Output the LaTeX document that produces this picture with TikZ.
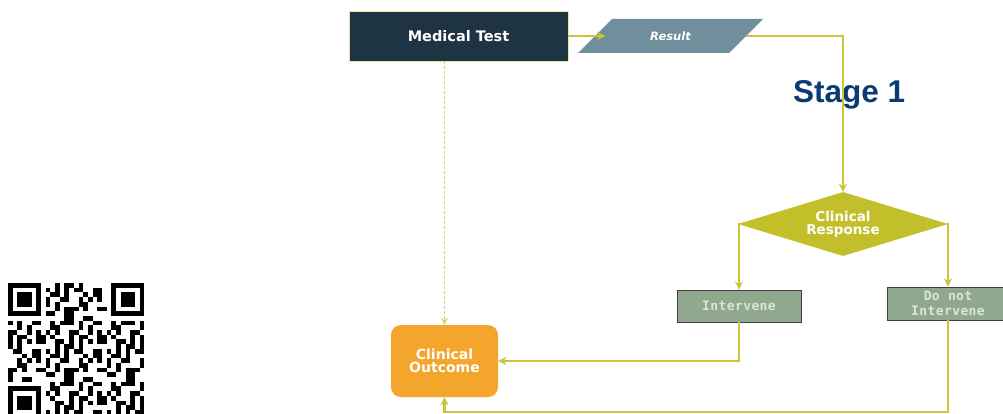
\documentclass[tikz,border=0pt]{standalone}
\usepackage{fontspec}
\setmainfont{DejaVu Sans}
\newfontfamily\stagefont{Liberation Sans}
\newfontfamily\monobold{DejaVu Sans Mono}[LetterSpace=3]
\usetikzlibrary{shapes.geometric,arrows.meta}

\definecolor{navy}{HTML}{1F3442}
\definecolor{slate}{HTML}{6F8F9C}
\definecolor{olive}{HTML}{C9C63A}
\definecolor{mustard}{HTML}{C3BF2A}
\definecolor{sage}{HTML}{8FA88E}
\definecolor{sagetext}{HTML}{DCE6D6}
\definecolor{amber}{HTML}{F4A52B}
\definecolor{stageblue}{HTML}{0B3B73}

\tikzset{
  flow/.style={draw=olive, line width=2.2pt, -{Stealth[length=8pt,width=8pt]}},
  dashflow/.style={draw=olive!75, line width=1.1pt, dash pattern=on 3pt off 2pt, -{Stealth[length=7pt,width=7pt]}},
  testbox/.style={rectangle, fill=navy, draw=olive!45, line width=0.8pt, text=white,
    font=\bfseries\fontsize{14.5}{16}\selectfont, inner sep=0pt},
  actbox/.style={rectangle, fill=sage, draw=black!75, line width=0.9pt, text=sagetext,
    font=\monobold\bfseries\fontsize{13}{15}\selectfont, align=center, inner sep=0pt},
  decision/.style={diamond, fill=mustard, text=white, inner sep=0pt, align=center, aspect=3.3,
    font=\bfseries\fontsize{13.5}{13}\selectfont},
  outcomebox/.style={rectangle, rounded corners=10pt, fill=amber, text=white, inner sep=0pt,
    align=center, font=\bfseries\fontsize{14}{13}\selectfont},
}

\begin{document}
\begin{tikzpicture}[x=1pt,y=-1pt]
\useasboundingbox[fill=white] (0,0) rectangle (1003,414);

% process boxes
\node[testbox, minimum width=219pt, minimum height=50pt] (test) at (458.5,36) {Medical Test};

% result (parallelogram drawn as a path, with a text node on it)
\fill[slate] (578,53) -- (612,19) -- (763,19) -- (729,53) -- cycle;
\node[inner sep=0pt, minimum width=150pt, minimum height=34pt, text=white,
  font=\bfseries\itshape\fontsize{11.5}{13}\selectfont] (res) at (670.5,36) {Result};

\node[decision, minimum width=210pt, minimum height=64pt] (resp) at (843,224) {Clinical\\Response};

\node[actbox, minimum width=124pt, minimum height=32pt] (int) at (739,306) {Intervene};
\node[actbox, minimum width=122pt, minimum height=33pt] (dni) at (948,303.5) {Do not\\Intervene};

\node[outcomebox, minimum width=107pt, minimum height=72pt] (out) at (444.5,361) {Clinical\\Outcome};

\node[anchor=base west, inner sep=0pt, text=stageblue,
  font=\stagefont\bfseries\fontsize{31.5}{34}\selectfont] (stage) at (793,103) {Stage 1};

% connectors
\draw[flow] (test.east) -- ([xshift=10pt]res.west);
\draw[flow] (res.east) -| (resp.north);
\draw[flow] (resp.west) -| (int.north);
\draw[flow] (resp.east) -| (dni.north);
\draw[flow] (int.south) |- (out.east);
\coordinate (low) at (948,412);
\draw[flow] (dni.south) -- (low) -| (out.south);
\draw[dashflow] (out.north |- test.south) -- (out.north);

% QR code
\begin{scope}[shift={(8,283)}, x=4.7pt, y=-4.7pt]
  \foreach \i in {0,...,28}{
    \foreach \j in {0,...,28}{
      \pgfmathtruncatemacro\inf{or(or(and(\i<8,\j<8),and(\i>20,\j<8)),and(\i<8,\j>20))}
      \pgfmathtruncatemacro\v{mod(\i*\i*3+\j*\j*5+\i*\j*2+\i*3+\j,13)}
      \ifnum\inf=0
        \ifnum\v<6
          \fill[black] (\i,\j) rectangle ++(1.02,1.02);
        \fi
      \fi
    }
  }
  \foreach \ox/\oy in {0/0,22/0,0/22}{
    \fill[black] (\ox,\oy) rectangle ++(7,7);
    \fill[white] (\ox+1,\oy+1) rectangle ++(5,5);
    \fill[black] (\ox+2,\oy+2) rectangle ++(3,3);
  }
\end{scope}
\end{tikzpicture}
\end{document}
